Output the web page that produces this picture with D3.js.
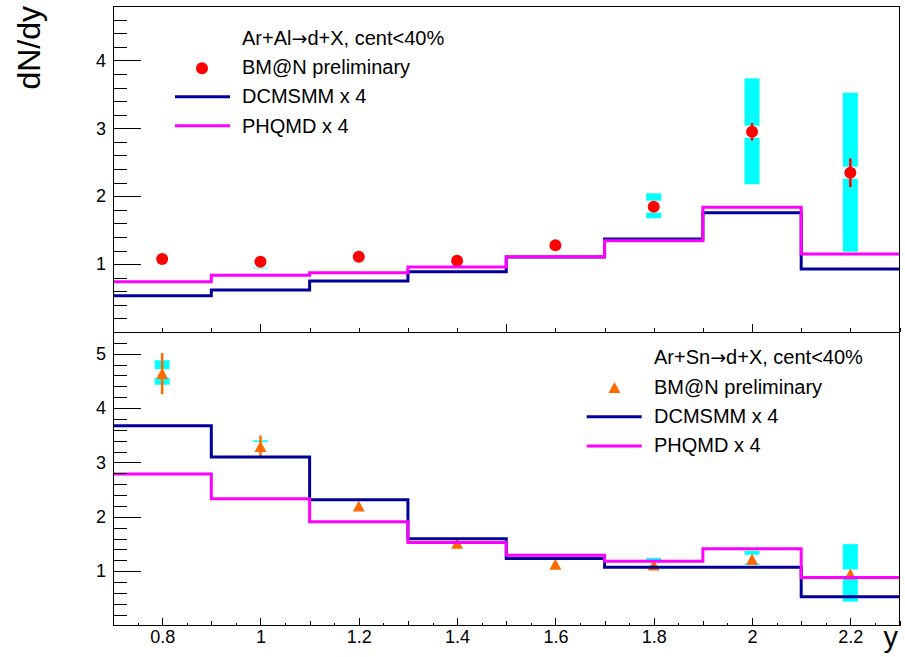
<!DOCTYPE html>
<html>
<head>
<meta charset="utf-8">
<script src="https://cdn.jsdelivr.net/npm/d3@7"></script>
<style>
  body { margin: 0; background: #fff; }
  text { font-family: "Liberation Sans", Arial, Helvetica, sans-serif; fill: #000; }
</style>
</head>
<body>
<div id="chart-area"></div>
<script>
// rapidity bins (same for both panels)
const binEdges = [0.7, 0.9, 1.1, 1.3, 1.5, 1.7, 1.9, 2.1, 2.3];
const yCenters = [0.8, 1.0, 1.2, 1.4, 1.6, 1.8, 2.0, 2.2];
const xTickLabels = ['0.8', '1', '1.2', '1.4', '1.6', '1.8', '2', '2.2'];

// Ar+Al -> d+X
const alYield = [1.075, 1.035, 1.109, 1.05, 1.277, 1.845, 2.949, 2.345];
const alStat = [0.07, 0.07, 0.05, 0.05, 0.05, 0.06, 0.13, 0.21];
const alSysLow = [1.02, 0.935, 1.06, 1.0, 1.23, 1.674, 2.175, 1.182];
const alSysHigh = [1.13, 1.12, 1.16, 1.1, 1.33, 2.042, 3.735, 3.523];
const alDcmsmm = [0.534, 0.618, 0.751, 0.888, 1.105, 1.37, 1.756, 0.928];
const alPhqmd = [0.741, 0.835, 0.873, 0.957, 1.109, 1.345, 1.836, 1.148];
const alYTicks = [1, 2, 3, 4];

// Ar+Sn -> d+X
const snYield = [4.635, 3.295, 2.197, 1.515, 1.128, 1.115, 1.22, 0.949];
const snStat = [0.38, 0.2, 0.04, 0.04, 0.04, 0.04, 0.05, 0.06];
const snSysLow = [4.43, 3.216, 2.15, 1.47, 1.054, 1.036, 1.115, 0.439];
const snSysHigh = [4.88, 3.406, 2.25, 1.56, 1.257, 1.244, 1.373, 1.497];
const snDcmsmm = [3.677, 3.10, 2.313, 1.594, 1.231, 1.073, 1.073, 0.531];
const snPhqmd = [2.787, 2.331, 1.907, 1.526, 1.294, 1.183, 1.41, 0.881];
const snYTicks = [1, 2, 3, 4, 5];

const colors = { dcm: '#000099', phq: '#ff00ff', sys: '#00ffff', al: '#ff0000', sn: '#ff6a00' };
const fontSize = { tick: 18, legend: 20, title: 32 };

const width = 905, height = 657;
const frameLeft = 113, frameRight = 899.5;

const svg = d3.select('#chart-area')
  .append('svg')
  .attr('width', width)
  .attr('height', height);

const x = d3.scaleLinear().domain([0.7, 2.3]).range([frameLeft, frameRight]);

// histogram as step line: value of each bin repeated up to the last edge
const histPoints = vals => binEdges.map((e, i) => [e, vals[Math.min(i, vals.length - 1)]]);

const triangle = (cx, cy) => `M${cx - 6},${cy + 5.5}L${cx + 6},${cy + 5.5}L${cx},${cy - 5.5}Z`;

// legend header with a wide arrow glyph
const addHeader = (sel, x0, y0, beam) => {
  const t = sel.append('text').attr('x', x0).attr('y', y0).attr('font-size', fontSize.legend);
  t.append('tspan').text('Ar+' + beam);
  t.append('tspan').attr('font-family', '"DejaVu Sans"').attr('font-size', fontSize.legend - 1).text('\u2192');
  t.append('tspan').text('d+X, cent<40%');
};

const drawPanel = p => {
  const y = d3.scaleLinear().domain([0, p.yMax]).range([p.bottom, p.top]);
  const g = svg.append('g');

  g.append('clipPath').attr('id', p.id + '-clip')
    .append('rect')
    .attr('x', frameLeft).attr('y', p.top)
    .attr('width', frameRight - frameLeft).attr('height', p.bottom - p.top);
  const plot = g.append('g').attr('clip-path', `url(#${p.id}-clip)`);

  // systematic errors: thick cyan bars with a gap around the marker
  yCenters.forEach((c, i) => {
    const yc = y(p.yield[i]);
    const parts = [[y(p.sysHigh[i]), yc - p.gap], [yc + p.gap, y(p.sysLow[i])]];
    parts.filter(([a, b]) => b > a).forEach(([a, b]) => {
      plot.append('rect')
        .attr('x', x(c) - 7.5).attr('y', a)
        .attr('width', 15).attr('height', b - a)
        .attr('fill', colors.sys);
    });
  });

  // statistical errors
  plot.selectAll('.stat')
    .data(yCenters)
    .enter().append('line')
    .attr('class', 'stat')
    .attr('x1', d => x(d)).attr('x2', d => x(d))
    .attr('y1', (d, i) => y(p.yield[i] + p.stat[i]))
    .attr('y2', (d, i) => y(p.yield[i] - p.stat[i]))
    .attr('stroke', p.color)
    .attr('stroke-width', 2.5);

  // markers
  if (p.marker === 'circle') {
    plot.selectAll('.mk')
      .data(yCenters)
      .enter().append('circle')
      .attr('cx', d => x(d)).attr('cy', (d, i) => y(p.yield[i]))
      .attr('r', 6)
      .attr('fill', p.color);
  } else {
    plot.selectAll('.mk')
      .data(yCenters)
      .enter().append('path')
      .attr('d', (d, i) => triangle(x(d), y(p.yield[i])))
      .attr('fill', p.color);
  }

  // model histograms (drawn over the data)
  const stepLine = d3.line()
    .x(d => x(d[0]))
    .y(d => y(d[1]))
    .curve(d3.curveStepAfter);
  [[p.dcm, colors.dcm], [p.phq, colors.phq]].forEach(([vals, col]) => {
    plot.append('path')
      .attr('d', stepLine(histPoints(vals)))
      .attr('fill', 'none')
      .attr('stroke', col)
      .attr('stroke-width', 3);
  });

  // y axis: major + minor ticks pointing inwards
  const yAxis = g.append('g')
    .attr('transform', `translate(${frameLeft},0)`)
    .call(d3.axisLeft(y).tickValues(p.yTicks).tickSize(-28).tickSizeOuter(0).tickPadding(7)
      .tickFormat(d3.format('d')));
  yAxis.select('.domain').remove();
  yAxis.selectAll('text').attr('font-size', fontSize.tick).attr('font-family', null);
  const yMinor = d3.range(1, Math.round(p.yMax / 0.2) + 1).map(k => k * 0.2)
    .filter(v => Math.abs(v - Math.round(v)) > 1e-6);
  g.append('g')
    .attr('transform', `translate(${frameLeft},0)`)
    .call(d3.axisLeft(y).tickValues(yMinor).tickSize(-14).tickSizeOuter(0).tickFormat(''))
    .select('.domain').remove();

  // x axis ticks
  p.xTicks.forEach(t => {
    const ax = g.append('g')
      .attr('transform', `translate(0,${p.bottom})`)
      .call(d3.axisBottom(x).tickValues(t.values).tickSize(-t.size).tickSizeOuter(0)
        .tickPadding(5).tickFormat(t.labels ? (d, i) => t.labels[i] : ''));
    ax.select('.domain').remove();
    ax.selectAll('text').attr('font-size', fontSize.tick).attr('font-family', null);
  });

  g.selectAll('.tick line').attr('stroke', '#000').attr('shape-rendering', 'crispEdges');

  // frame
  g.append('rect')
    .attr('x', frameLeft).attr('y', p.top)
    .attr('width', frameRight - frameLeft).attr('height', p.bottom - p.top)
    .attr('fill', 'none').attr('stroke', '#000').attr('stroke-width', 1)
    .attr('shape-rendering', 'crispEdges');

  // legend
  const lg = g.append('g');
  const lx = p.legend.textX;
  addHeader(lg, lx, p.legend.base[0], p.legend.beam);
  lg.append('text').attr('x', lx).attr('y', p.legend.base[1])
    .attr('font-size', fontSize.legend).text('BM@N preliminary');
  if (p.marker === 'circle') {
    lg.append('circle').attr('cx', p.legend.markX).attr('cy', p.legend.markY).attr('r', 6).attr('fill', p.color);
  } else {
    lg.append('path').attr('d', triangle(p.legend.markX, p.legend.markY)).attr('fill', p.color);
  }
  [['DCMSMM x 4', colors.dcm], ['PHQMD x 4', colors.phq]].forEach(([label, col], i) => {
    lg.append('line')
      .attr('x1', p.legend.lineX[0]).attr('x2', p.legend.lineX[1])
      .attr('y1', p.legend.lineY[i]).attr('y2', p.legend.lineY[i])
      .attr('stroke', col).attr('stroke-width', 3);
    lg.append('text').attr('x', lx).attr('y', p.legend.base[i + 2])
      .attr('font-size', fontSize.legend).text(label);
  });
};

const tickRange = (step) => d3.range(0, Math.round(1.6 / step) + 1).map(k => +(0.7 + k * step).toFixed(3));

drawPanel({
  id: 'al', top: 6, bottom: 332, yMax: 4.8,
  yield: alYield, stat: alStat, sysLow: alSysLow, sysHigh: alSysHigh,
  dcm: alDcmsmm, phq: alPhqmd, yTicks: alYTicks,
  color: colors.al, marker: 'circle', gap: 6,
  xTicks: [
    { values: tickRange(0.1), size: 4 },
    { values: [1.0, 1.5, 2.0], size: 8 }
  ],
  legend: {
    beam: 'Al', textX: 242,
    base: [45, 74, 103, 132.5], markX: 202, markY: 68.3,
    lineX: [175, 230], lineY: [96.7, 125.7]
  }
});

drawPanel({
  id: 'sn', top: 332, bottom: 625.5, yMax: 5.4,
  yield: snYield, stat: snStat, sysLow: snSysLow, sysHigh: snSysHigh,
  dcm: snDcmsmm, phq: snPhqmd, yTicks: snYTicks,
  color: colors.sn, marker: 'triangle', gap: 4.5,
  xTicks: [
    { values: tickRange(0.05), size: 3 },
    { values: tickRange(0.1), size: 5 },
    { values: yCenters, size: 8, labels: xTickLabels }
  ],
  legend: {
    beam: 'Sn', textX: 654,
    base: [364, 394, 422.7, 452.3], markX: 614.5, markY: 387.5,
    lineX: [586.7, 641.7], lineY: [416.7, 446]
  }
});

// axis titles
svg.append('text')
  .attr('transform', 'translate(40,6) rotate(-90)')
  .attr('text-anchor', 'end')
  .attr('font-size', fontSize.title)
  .text('dN/dy');

svg.append('text')
  .attr('x', 898).attr('y', 647)
  .attr('text-anchor', 'end')
  .attr('font-size', 29)
  .text('y');
</script>
</body>
</html>
